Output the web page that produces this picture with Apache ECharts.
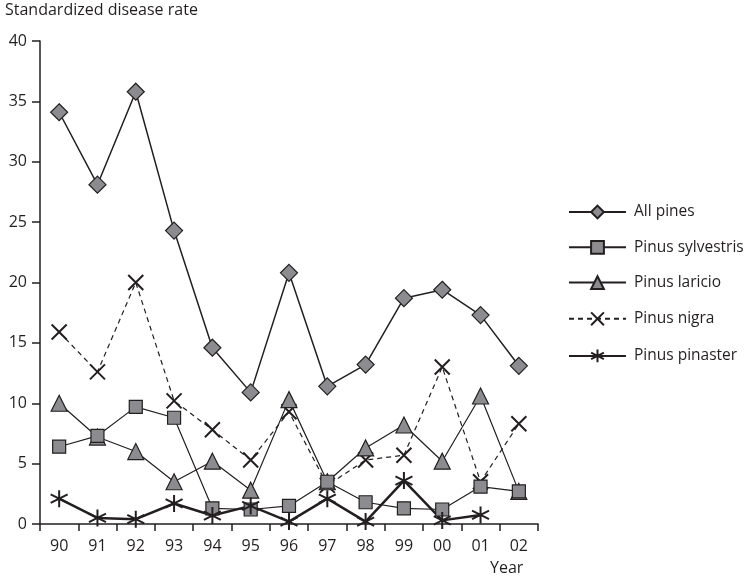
<!DOCTYPE html>
<html><head><meta charset="utf-8">
<script src="https://cdn.jsdelivr.net/npm/echarts@6/dist/echarts.min.js"></script>
<style>html,body{margin:0;padding:0;background:#fff}#c{width:751px;height:581px}</style>
</head><body><div id="c"></div>
<script>
const years = ['90','91','92','93','94','95','96','97','98','99','00','01','02'];
const allPines = [34.1, 28.1, 35.8, 24.3, 14.6, 10.9, 20.8, 11.4, 13.2, 18.7, 19.4, 17.3, 13.1];
const sylvestris = [6.4, 7.3, 9.7, 8.8, 1.3, 1.2, 1.5, 3.5, 1.8, 1.3, 1.2, 3.1, 2.7];
const laricio = [10.0, 7.2, 6.0, 3.5, 5.2, 2.8, 10.3, 3.5, 6.3, 8.2, 5.2, 10.6, 2.7];
const nigra = [15.9, 12.6, 20.0, 10.2, 7.8, 5.3, 9.3, 3.2, 5.3, 5.7, 13.0, 3.5, 8.3];
const pinaster = [2.1, 0.5, 0.4, 1.7, 0.7, 1.5, 0.2, 2.1, 0.2, 3.6, 0.3, 0.75, null];
const yTicks = [0, 5, 10, 15, 20, 25, 30, 35, 40];

const ink = '#231f20';
const fillG = '#8c8c90';
const font = '"Open Sans", "Noto Sans", sans-serif';
const X = 'path://M0,0L10,10M10,0L0,10';
const AST = 'path://M5,0L5,10M0.7,2.5L9.3,7.5M0.7,7.5L9.3,2.5';

const chart = echarts.init(document.getElementById('c'));
function mk(name, data, symbol, size, lw, dashed, filled) {
  return {
    name, type: 'line', data, symbol, symbolSize: size,
    lineStyle: {color: ink, width: lw, type: dashed ? [5,4] : 'solid'},
    itemStyle: {color: filled ? fillG : 'none', borderColor: ink, borderWidth: filled ? 1.2 : 2},
    emphasis: {disabled: true}, animation: false, connectNulls: false
  };
}
chart.setOption({
  animation: false,
  grid: {left: 40, right: 213, top: 41, bottom: 57},
  legend: {
    orient: 'vertical', left: 563, top: 199, itemWidth: 57, itemHeight: 16, itemGap: 19.3,
    textStyle: {fontFamily: font, fontSize: 15.5, color: ink, padding: [0,0,0,3]},
    data: ['All pines','Pinus sylvestris','Pinus laricio','Pinus nigra','Pinus pinaster']
  },
  xAxis: {
    type: 'category', data: years, boundaryGap: true,
    axisLine: {lineStyle: {color: ink, width: 1.5}},
    axisTick: {show: true, length: 7, inside: false, lineStyle: {color: ink, width: 1.5}},
    axisLabel: {fontFamily: font, fontSize: 16, color: ink, margin: 14},
    splitLine: {show: false}
  },
  yAxis: {
    type: 'value', min: 0, max: 40, interval: 5,
    axisLine: {show: true, lineStyle: {color: ink, width: 1.5}},
    axisTick: {show: true, length: 8, lineStyle: {color: ink, width: 1.5}},
    axisLabel: {fontFamily: font, fontSize: 16, color: ink, margin: 13,
      formatter: v => yTicks.includes(v) ? String(v) : ''},
    splitLine: {show: false}
  },
  graphic: [
    {type: 'text', left: 5, top: 2, style: {text: 'Standardized disease rate', font: '16px ' + font, fill: ink}},
    {type: 'text', left: 490, top: 560, style: {text: 'Year', font: '16px ' + font, fill: ink}}
  ],
  series: [
    mk('Pinus nigra', nigra, X, 15, 1.2, true, false),
    mk('Pinus laricio', laricio, 'triangle', 16, 1.2, false, true),
    mk('Pinus sylvestris', sylvestris, 'rect', 13, 1.2, false, true),
    mk('Pinus pinaster', pinaster, AST, 17, 2.5, false, false),
    mk('All pines', allPines, 'diamond', 17, 1.5, false, true)
  ]
});
</script></body></html>
